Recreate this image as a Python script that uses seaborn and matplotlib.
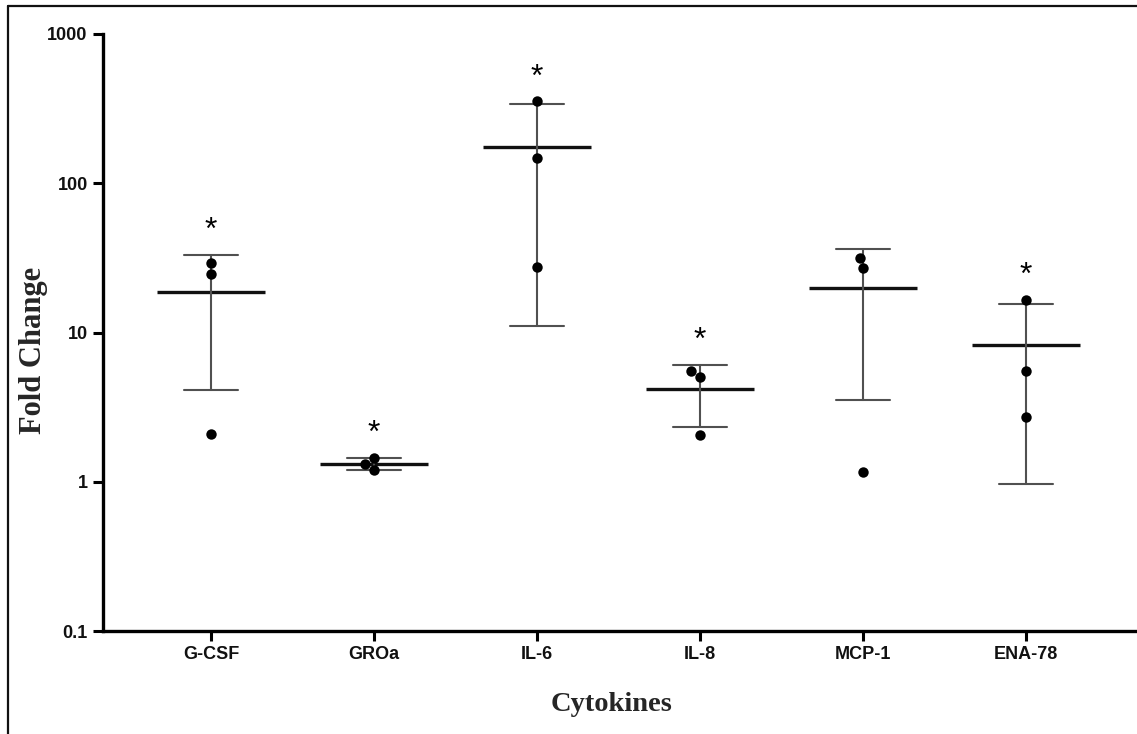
import matplotlib
matplotlib.use('Agg')
import matplotlib.pyplot as plt
from matplotlib.lines import Line2D
from matplotlib.ticker import FixedLocator, FuncFormatter, NullLocator
import seaborn as sns
import pandas as pd
import numpy as np

# Fold change por citocina (3 replicatas cada)
cytokines = ['G-CSF', 'GROa', 'IL-6', 'IL-8', 'MCP-1', 'ENA-78']
gcsf = [29.2, 24.6, 2.09]
groa = [1.45, 1.32, 1.20]
il6 = [353, 147, 27.4]
il8 = [5.53, 5.04, 2.06]
mcp1 = [31.5, 27.0, 1.17]
ena78 = [16.5, 5.53, 2.72]
significant = [True, True, True, True, False, True]
y_ticks = [0.1, 1, 10, 100, 1000]

df = pd.DataFrame({
    'cytokine': np.repeat(cytokines, 3),
    'fold': gcsf + groa + il6 + il8 + mcp1 + ena78,
})

sns.set_style('ticks')
plt.rcParams['font.family'] = ['Liberation Sans', 'DejaVu Sans']

fig = plt.figure(figsize=(11.37, 7.34), dpi=100)
ax = fig.add_axes([103 / 1137, 1 - 631 / 734, 1 - 103 / 1137, (631 - 34) / 734])

# media +/- DP (calculado na escala linear, antes do log)
sns.pointplot(data=df, x='cytokine', y='fold', order=cytokines,
              errorbar='sd', capsize=0.33, color='#111111',
              marker='_', markersize=78, markeredgewidth=2.4,
              linestyle='none',
              err_kws={'color': '#505050', 'linewidth': 1.5}, ax=ax)

ax.set_yscale('log')
ax.set_ylim(0.1, 1000)

sns.swarmplot(data=df, x='cytokine', y='fold', order=cytokines,
              color='black', size=7.5, ax=ax, zorder=5)

# asteriscos de significancia
stats = df.groupby('cytokine')['fold'].agg(['mean', 'std', 'max'])
for i, (name, sig) in enumerate(zip(cytokines, significant)):
    if not sig:
        continue
    top = max(stats.loc[name, 'mean'] + stats.loc[name, 'std'], stats.loc[name, 'max'])
    ax.annotate('*', xy=(i, top), xytext=(0, 24), textcoords='offset pixels',
                ha='center', va='center', fontsize=23, color='black')

ax.set_xlim(-0.663, 5.68)
ax.yaxis.set_major_locator(FixedLocator(y_ticks))
ax.yaxis.set_minor_locator(NullLocator())
ax.yaxis.set_major_formatter(FuncFormatter(lambda v, p: f'{v:g}'))

for side in ['top', 'right']:
    ax.spines[side].set_visible(False)
for side in ['left', 'bottom']:
    ax.spines[side].set_linewidth(2.4)
    ax.spines[side].set_color('black')
ax.tick_params(axis='both', length=7, width=2.2, color='black',
               labelsize=13, pad=4)
for lbl in ax.get_xticklabels() + ax.get_yticklabels():
    lbl.set_fontweight('bold')
    lbl.set_color('#111111')

ax.set_xlabel('Cytokines', fontfamily='Liberation Serif', fontweight='bold', fontsize=20.5)
ax.set_ylabel('Fold Change', fontfamily='Liberation Serif', fontweight='bold', fontsize=22)
ax.xaxis.set_label_coords(0.492, -0.103)
ax.yaxis.set_label_coords(-0.053, 0.47)

# moldura da figura (cortada a direita e embaixo)
fig.add_artist(Line2D([8 / 1137, 8 / 1137], [0, 1 - 6 / 734], transform=fig.transFigure,
                      color='#111111', linewidth=1.6))
fig.add_artist(Line2D([8 / 1137, 1], [1 - 6 / 734, 1 - 6 / 734], transform=fig.transFigure,
                      color='#111111', linewidth=1.6))

fig.savefig('out.png', dpi=100)
plt.close(fig)
